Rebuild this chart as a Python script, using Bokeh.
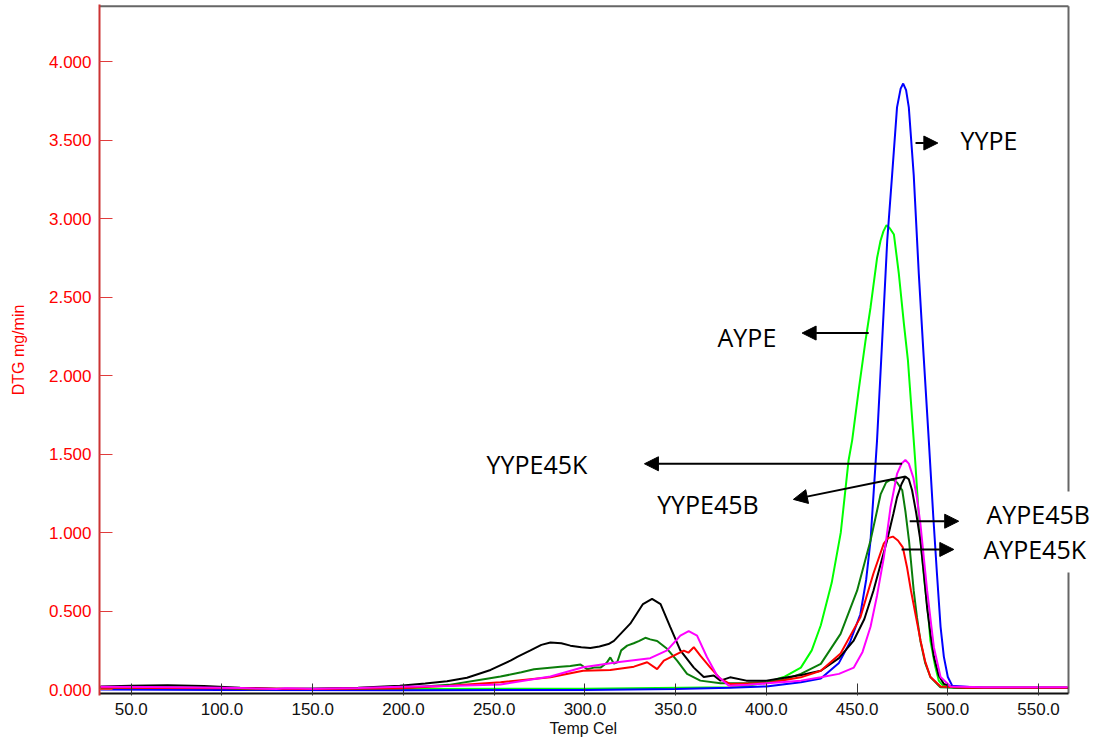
from bokeh.plotting import figure
from bokeh.models import (ColumnDataSource, FixedTicker, NumeralTickFormatter,
                          Label, Arrow, NormalHead, Title)
from bokeh.embed import file_html
from bokeh.resources import INLINE

# ---------------- data (Temp Cel, DTG mg/min) ----------------
yype_t = [33, 100, 200, 300, 350, 380, 400, 419, 430, 440, 446, 451.8, 455, 457.4, 461, 463.8,
          466.6, 469.3, 472, 474, 475.4, 477, 478.5, 481.2, 484, 486.7, 489.5, 492, 494, 496,
          497.8, 500, 502.4, 520, 540, 566]
yype_v = [0.0, -0.003, -0.004, -0.002, 0.004, 0.012, 0.02, 0.047, 0.07, 0.17, 0.3, 0.48, 0.7,
          0.95, 1.59, 2.22, 2.86, 3.28, 3.71, 3.83, 3.862, 3.82, 3.71, 3.28, 2.65, 2.12, 1.59,
          1.1, 0.74, 0.4, 0.21, 0.08, 0.025, 0.01, 0.01, 0.01]

aype_t = [33, 100, 115, 150, 200, 300, 380, 390, 400.4, 409.6, 419, 425, 430, 436, 441, 445.3,
          447.3, 451, 454.6, 457.4, 461, 462.9, 464.5, 466.2, 468, 470.3, 473, 475.8, 478,
          481.2, 482, 484.9, 487, 489.4, 490.4, 493, 495, 497, 499.6, 510, 540, 566]
aype_v = [0.012, 0.005, -0.002, 0.003, 0.004, 0.006, 0.015, 0.025, 0.047, 0.08, 0.14, 0.25,
          0.41, 0.68, 1.0, 1.46, 1.59, 1.92, 2.22, 2.435, 2.75, 2.86, 2.92, 2.96, 2.94, 2.90,
          2.65, 2.33, 2.1, 1.59, 1.46, 0.95, 0.7, 0.45, 0.31, 0.15, 0.057, 0.03, 0.015, 0.01,
          0.01, 0.01]

yype45b_t = [33, 50, 70, 90, 110, 130, 150, 175, 198, 212, 224, 235, 248, 259, 263, 270, 276,
             281, 287, 292, 298, 303, 308, 313, 316, 325, 332, 337, 341.7, 347, 352.6, 360,
             365.5, 371, 374.7, 380, 389, 400, 410, 420, 430, 440, 448, 454, 459, 463, 466.5,
             470, 472, 474.5, 476.6, 478.5, 480.3, 482.5, 484.9, 486.8, 488.6, 490.5, 492.3,
             495, 497.8, 503, 520, 540, 566]
yype45b_v = [0.02, 0.025, 0.027, 0.022, 0.012, 0.006, 0.005, 0.012, 0.024, 0.038, 0.053, 0.075,
             0.125, 0.185, 0.21, 0.25, 0.285, 0.30, 0.295, 0.28, 0.27, 0.265, 0.275, 0.29,
             0.31, 0.42, 0.545, 0.578, 0.545, 0.40, 0.25, 0.14, 0.08, 0.09, 0.057, 0.078,
             0.057, 0.057, 0.075, 0.095, 0.12, 0.2, 0.31, 0.45, 0.63, 0.8, 0.95, 1.12, 1.225,
             1.31, 1.357, 1.34, 1.27, 1.13, 0.95, 0.74, 0.52, 0.35, 0.21, 0.09, 0.036, 0.015,
             0.013, 0.013, 0.013]

aype45b_t = [33, 60, 100, 115, 150, 198, 225, 246, 253.5, 265, 272, 286.5, 292, 297.6, 301.2,
             305, 308.6, 312, 314, 316, 317.8, 320, 323.3, 326.9, 330, 333.3, 336, 339.8,
             345.3, 350.8, 356.3, 363.6, 374.7, 390, 400.4, 410, 419, 430, 440.9, 450, 457.4,
             463, 466, 469.3, 472, 474.9, 476.7, 478.6, 481.2, 483, 484.9, 487.5, 490.4,
             495.9, 510, 540, 566]
aype45b_v = [0.015, 0.015, 0.01, 0.002, 0.005, 0.008, 0.03, 0.069, 0.083, 0.11, 0.13, 0.146,
             0.15, 0.16, 0.13, 0.14, 0.14, 0.17, 0.205, 0.165, 0.174, 0.25, 0.28, 0.295, 0.31,
             0.33, 0.32, 0.31, 0.26, 0.185, 0.10, 0.057, 0.04, 0.042, 0.047, 0.065, 0.10,
             0.164, 0.355, 0.63, 0.95, 1.246, 1.32, 1.342, 1.32, 1.27, 1.13, 0.95, 0.63, 0.46,
             0.31, 0.17, 0.08, 0.015, 0.01, 0.01, 0.01]

aype45k_t = [33, 100, 150, 198, 225, 253.5, 281, 299, 314, 327, 334.3, 339.8, 343.5, 349,
             354.5, 357, 360, 363.6, 369, 374.7, 380, 400, 419, 430, 440.9, 451.8, 459, 464.7,
             467, 469.7, 472.5, 475.2, 477.5, 479.7, 482.5, 485, 487.5, 490.4, 496, 510, 540,
             566]
aype45k_v = [0.012, 0.008, 0.004, 0.008, 0.025, 0.047, 0.078, 0.12, 0.125, 0.146, 0.174, 0.13,
             0.185, 0.216, 0.248, 0.235, 0.27, 0.216, 0.142, 0.068, 0.036, 0.04, 0.078, 0.12,
             0.23, 0.46, 0.74, 0.93, 0.965, 0.975, 0.95, 0.906, 0.78, 0.63, 0.46, 0.31, 0.18,
             0.08, 0.02, 0.012, 0.012, 0.012]

yype45k_t = [33, 60, 90, 110, 130, 135, 150, 175, 198, 225, 253.5, 281, 299, 317.8, 336, 345.3,
             352.6, 357.2, 361.8, 367.3, 372.8, 379.3, 390, 400.4, 419, 430, 440, 448.2, 453,
             457.4, 461, 464.7, 468.4, 472, 474.5, 476.6, 478.5, 481, 483, 484.9, 488.6, 492.3,
             496, 501.5, 520, 540, 566]
yype45k_v = [0.018, 0.017, 0.013, 0.01, 0.003, 0.008, 0.006, 0.01, 0.018, 0.022, 0.032, 0.083,
             0.142, 0.174, 0.2, 0.25, 0.344, 0.372, 0.344, 0.206, 0.09, 0.025, 0.03, 0.04,
             0.057, 0.078, 0.1, 0.14, 0.24, 0.40, 0.6, 0.84, 1.16, 1.374, 1.44, 1.463, 1.44,
             1.35, 1.22, 1.055, 0.63, 0.27, 0.08, 0.02, 0.015, 0.015, 0.015]

x_ticks = [50, 100, 150, 200, 250, 300, 350, 400, 450, 500, 550]
y_ticks = [0.0, 0.5, 1.0, 1.5, 2.0, 2.5, 3.0, 3.5, 4.0]

# plotted data window (frame box of the original chart)
x_lo, x_hi = 32.5, 566.5
y_lo, y_hi = -0.025, 4.355

# annotation labels: text position and arrow tail -> tip, in data units
ann_names = ["YYPE", "AYPE", "YYPE45K", "YYPE45B", "AYPE45B", "AYPE45K"]
ann_text_x = [507.0, 373.1, 245.8, 339.8, 518.0, 516.3]
ann_text_y = [3.50, 2.25, 1.435, 1.18, 1.116, 0.893]
arr_x0 = [482.2, 456.4, 474.8, 476.7, 479.0, 474.5]
arr_y0 = [3.483, 2.272, 1.439, 1.358, 1.073, 0.893]
arr_x1 = [494.5, 419.7, 332.8, 414.9, 506.0, 503.3]
arr_y1 = [3.483, 2.272, 1.439, 1.212, 1.073, 0.893]

# ---------------- figure ----------------
# the frame runs to the right page edge so that labels outside the box stay visible;
# the box itself is drawn as line segments.
px_per_x = 969.0 / (x_hi - x_lo)
px_per_y = 687.0 / (y_hi - y_lo)
p = figure(width=1094, height=745,
           x_range=(x_lo, x_hi + 26.0 / px_per_x),
           y_range=(y_lo - 2.0 / px_per_y, y_hi + 1.7 / px_per_y),
           output_backend="svg", toolbar_location=None,
           min_border_left=99, min_border_right=0, min_border_top=4, min_border_bottom=50)
p.background_fill_color = "white"
p.border_fill_color = "white"
p.outline_line_color = None
p.xgrid.visible = False
p.ygrid.visible = False

# box: top, right (gray) and bottom (black)
p.segment(x0=[x_lo, x_hi], y0=[y_hi, y_lo], x1=[x_hi, x_hi], y1=[y_hi, y_hi],
          line_color="#666666", line_width=2)
p.segment(x0=[x_lo], y0=[y_lo], x1=[x_hi], y1=[y_lo], line_color="#111111", line_width=2)

series = [
    (aype_t, aype_v, "#00ff00"),
    (yype_t, yype_v, "#0000ff"),
    (aype45b_t, aype45b_v, "#0a7d0a"),
    (yype45b_t, yype45b_v, "#000000"),
    (aype45k_t, aype45k_v, "#ff0000"),
    (yype45k_t, yype45k_v, "#ff00ff"),
]
for t, v, c in series:
    src = ColumnDataSource(dict(t=t, v=v))
    p.line("t", "v", source=src, line_color=c, line_width=2)

# x axis
xa = p.xaxis[0]
xa.ticker = FixedTicker(ticks=x_ticks)
xa.formatter = NumeralTickFormatter(format="0.0")
xa.axis_line_color = None
xa.major_tick_in = 12
xa.major_tick_out = 0
xa.major_tick_line_color = "#333333"
xa.minor_tick_line_color = None
xa.major_label_text_font = "Liberation Sans"
xa.major_label_text_font_size = "17px"
xa.major_label_text_color = "#111111"
xa.major_label_standoff = 7

# x axis title, centred under the box (not under the widened frame)
p.add_layout(Title(text="Temp Cel", align="left", offset=450,
                   text_font="Liberation Sans", text_font_size="16px",
                   text_font_style="normal", text_color="#111111", standoff=0), "below")

# y axis
ya = p.yaxis[0]
ya.ticker = FixedTicker(ticks=y_ticks)
ya.formatter = NumeralTickFormatter(format="0.000")
ya.axis_label = "DTG mg/min"
ya.axis_line_color = "#cc3333"
ya.axis_line_width = 2
ya.major_tick_in = 13
ya.major_tick_out = 0
ya.major_tick_line_color = "#e03c3c"
ya.minor_tick_line_color = None
ya.major_label_text_font = "Liberation Sans"
ya.major_label_text_font_size = "17px"
ya.major_label_text_color = "#ff0000"
ya.major_label_standoff = 8
ya.axis_label_text_font = "Liberation Sans"
ya.axis_label_text_font_size = "16px"
ya.axis_label_text_font_style = "normal"
ya.axis_label_text_color = "#ff0000"
ya.axis_label_standoff = 19

# annotations
for i, name in enumerate(ann_names):
    p.add_layout(Arrow(end=NormalHead(size=14, fill_color="black", line_color="black"),
                       x_start=arr_x0[i], y_start=arr_y0[i], x_end=arr_x1[i], y_end=arr_y1[i],
                       line_color="black", line_width=2))
for i, name in enumerate(ann_names):
    kw = {}
    if name in ("AYPE45B", "AYPE45K"):
        kw = dict(background_fill_color="white", padding=6)
    p.add_layout(Label(x=ann_text_x[i], y=ann_text_y[i], text=name, text_font="Open Sans",
                       text_font_size="25px", text_color="#000000",
                       text_baseline="alphabetic", text_align="left", **kw))

open("out.html", "w").write(file_html(p, INLINE))
